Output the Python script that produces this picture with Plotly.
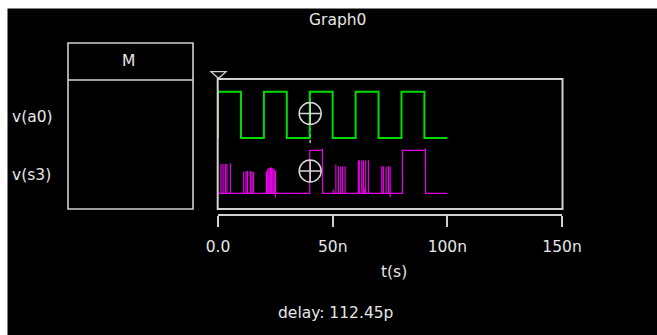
import plotly.graph_objects as go

# ---------------- data ----------------
# v(a0): square wave, transition times (ns) and level after each transition
a0_times = [0, 0, 10, 20, 30, 40, 50, 60, 70, 80, 90, 100]
a0_levels = [0, 1, 0, 1, 0, 1, 0, 1, 0, 1, 0, 0]

# v(s3): wide pulses (edge times in ns, level after edge)
s3_edge_times = [40.0, 45.6, 80.4, 90.5]
s3_edge_levels = [1, 0, 1, 0]
s3_end = 100.0

# v(s3): glitch spikes (time ns, peak value)
spike_times = [1.3, 2.2, 3.2, 3.9, 5.4,
               11.2, 12.2, 12.9, 14.1, 14.8, 15.5,
               21.1, 21.6, 22.2, 22.8, 23.3, 23.9, 24.5, 25.0, 25.1,
               45.5,
               50.3, 51.4, 52.5, 53.5, 54.3, 55.4,
               61.2, 61.6, 62.7, 63.4, 64.0, 64.4, 65.6,
               71.4, 72.1, 73.3, 74.3, 75.0, 75.1,
               90.4]
spike_values = [0.68, 0.68, 0.68, 0.68, 0.70,
                0.50, 0.52, 0.52, 0.52, 0.50, 0.50,
                0.50, 0.56, 0.59, 0.60, 0.60, 0.59, 0.56, -0.10, 0.53,
                1.04,
                0.08, 0.67, 0.63, 0.62, 0.63, 0.63,
                0.76, 0.77, 0.77, 0.76, 0.12, 0.77, 0.77,
                0.63, 0.63, 0.62, 0.63, 0.63, -0.08,
                1.04]

cursor_t = 40.2
cursor_a0 = 0.53
cursor_s3 = 0.52

tick_vals = [0, 50, 100, 150]
tick_text = ["0.0", "50n", "100n", "150n"]

# ---------------- build s3 polyline ----------------
events = [(t, 1, v) for t, v in zip(s3_edge_times, s3_edge_levels)] + \
         [(t, 0, v) for t, v in zip(spike_times, spike_values)]
events.sort(key=lambda e: (e[0], e[1]))
s3_x, s3_y = [0.0], [0.0]
level = 0
for t, kind, v in events:
    if kind == 1:
        s3_x += [t, t]
        s3_y += [level, v]
        level = v
    else:
        s3_x += [t, t, t]
        s3_y += [level, v, level]
s3_x.append(s3_end)
s3_y.append(level)

# ---------------- layout helpers ----------------
W, H = 657, 335
L, R, T, B = 218, 95, 79, 120
PW, PH = W - L - R, H - T - B


def px(x):
    return (x - L) / PW


def py(y):
    return (T + PH - y) / PH


FONT = "DejaVu Sans"
FS = 15.5
GRAY = "#d0d0d0"
TXT = "#e6e6e6"

fig = go.Figure()
fig.add_trace(go.Scatter(x=a0_times, y=a0_levels, mode="lines", line_shape="hv",
                         line=dict(color="#00dc00", width=2), yaxis="y", showlegend=False,
                         hoverinfo="skip"))
fig.add_trace(go.Scatter(x=s3_x, y=s3_y, mode="lines",
                         line=dict(color="#e600e6", width=1.2), yaxis="y2", showlegend=False,
                         hoverinfo="skip"))
fig.add_trace(go.Scatter(x=[cursor_t], y=[cursor_a0], mode="markers", yaxis="y", cliponaxis=False,
                         marker=dict(symbol="circle-cross-open", size=22, color="#d8d8d8",
                                     line=dict(width=1.5, color="#d8d8d8")),
                         showlegend=False, hoverinfo="skip"))
fig.add_trace(go.Scatter(x=[cursor_t], y=[cursor_s3], mode="markers", yaxis="y2", cliponaxis=False,
                         marker=dict(symbol="circle-cross-open", size=22, color="#d8d8d8",
                                     line=dict(width=1.5, color="#d8d8d8")),
                         showlegend=False, hoverinfo="skip"))

shapes = [
    # white strips at top / left
    dict(type="rect", xref="paper", yref="paper", x0=px(0), x1=px(W), y0=py(0), y1=py(8.5),
         fillcolor="white", line=dict(width=0), layer="above"),
    dict(type="rect", xref="paper", yref="paper", x0=px(0), x1=px(7.5), y0=py(0), y1=py(H),
         fillcolor="white", line=dict(width=0), layer="above"),
    # waveform frame
    dict(type="rect", xref="paper", yref="paper", x0=px(217.7), x1=px(562.5), y0=py(79), y1=py(209),
         line=dict(color=GRAY, width=2)),
    # M box
    dict(type="rect", xref="paper", yref="paper", x0=px(68), x1=px(193), y0=py(43), y1=py(209),
         line=dict(color=GRAY, width=1.6)),
    dict(type="line", xref="paper", yref="paper", x0=px(68), x1=px(193), y0=py(80), y1=py(80),
         line=dict(color=GRAY, width=1.6)),
    # trigger triangle
    dict(type="path", xref="paper", yref="paper",
         path=f"M {px(211)} {py(71.7)} L {px(226)} {py(71.7)} L {px(218.5)} {py(78.3)} Z",
         line=dict(color=GRAY, width=1.3)),
    # cursor dashed line
    dict(type="line", xref="x", yref="y", x0=cursor_t, x1=cursor_t, y0=-0.11, y1=1.0,
         line=dict(color="#bbbbbb", width=1.5, dash="dot"), layer="below"),
]

ann = [
    dict(text="Graph0", x=px(337), y=py(20)),
    dict(text="M", x=px(128), y=py(61)),
    dict(text="t(s)", x=px(394), y=py(272)),
    dict(text="delay: 112.45p", x=px(335), y=py(313)),
]
annotations = [dict(text=a["text"], x=a["x"], y=a["y"], xref="paper", yref="paper",
                    xanchor="center", yanchor="middle", showarrow=False,
                    font=dict(family=FONT, size=FS, color=TXT)) for a in ann]
for txt, yy in [("v(a0)", 117), ("v(s3)", 175)]:
    annotations.append(dict(text=txt, x=px(10), y=py(yy), xref="paper", yref="paper",
                            xanchor="left", yanchor="middle", showarrow=False,
                            font=dict(family=FONT, size=FS, color=TXT)))

fig.update_layout(
    width=W, height=H,
    margin=dict(l=L, r=R, t=T, b=B, pad=0),
    paper_bgcolor="black", plot_bgcolor="black",
    xaxis=dict(range=[0, 150], showgrid=False, zeroline=False, showline=True,
               anchor="free", position=0,
               linecolor=GRAY, linewidth=2, ticks="outside", ticklen=11, tickwidth=2,
               tickcolor=GRAY, tickvals=tick_vals, ticktext=tick_text,
               ticklabelstandoff=6,
               tickfont=dict(family=FONT, size=FS, color=TXT), fixedrange=True),
    yaxis=dict(range=[-0.12, 1.12], domain=[0.5253, 0.9475], visible=False, fixedrange=True),
    yaxis2=dict(range=[-0.15, 1.15], domain=[0.1121, 0.5232], visible=False, fixedrange=True,
                anchor="x"),
    shapes=shapes,
    annotations=annotations,
    showlegend=False,
)

fig.write_html("out.html", config={"displayModeBar": False})
